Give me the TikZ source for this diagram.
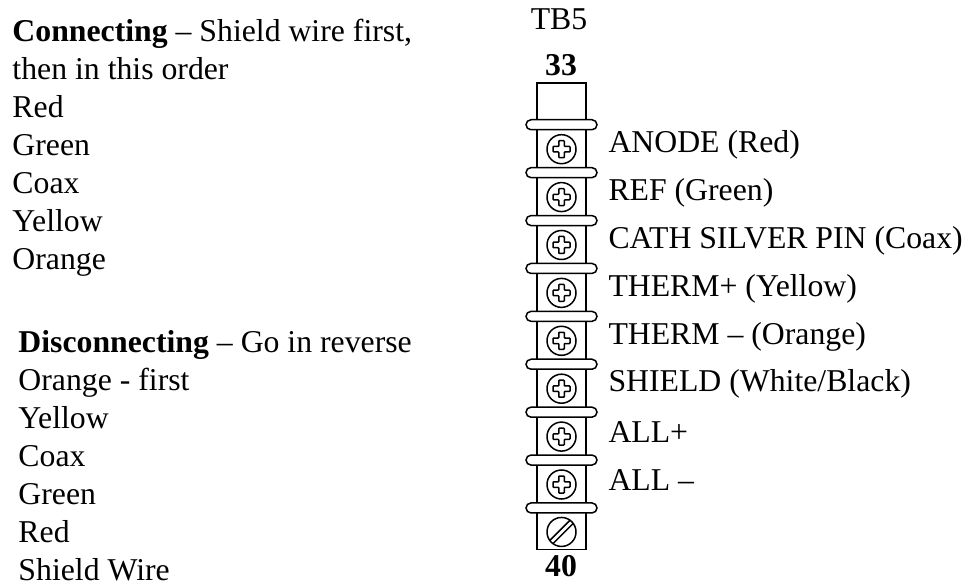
\documentclass[tikz,border=0pt]{standalone}
\usepackage{fontspec}
\setmainfont{Liberation Serif}
\usetikzlibrary{positioning}

\begin{document}
\begin{tikzpicture}[x=0.4pt, y=-0.4pt, node distance=0pt]
    \tikzset{
        slot/.style={
            rectangle,
            draw,
            line width=0.6pt,
            inner sep=0pt,
            minimum width=19.6pt,
            minimum height=18.56pt
        },
        endslot/.style={slot, minimum height=16.4pt},
        bar/.style={
            rectangle,
            rounded corners=2pt,
            draw,
            fill=white,
            line width=0.6pt,
            inner sep=0pt,
            minimum width=28.4pt,
            minimum height=4pt
        },
        screw/.style={circle, draw, line width=0.6pt, inner sep=0pt, minimum size=11.6pt},
        lbl/.style={anchor=west, inner sep=0pt, font=\fontsize{12.7}{15.3}\selectfont},
        txt/.style={anchor=north west, align=left, inner sep=0pt, font=\fontsize{12.7}{15.2}\selectfont},
        phillips/.pic={
            \draw[line width=0.6pt, rounded corners=0.3pt]
            (1.1pt,3.4pt) -- (1.1pt,1.1pt) -- (3.4pt,1.1pt) -- (3.4pt,-1.1pt) -- (1.1pt,-1.1pt)
            -- (1.1pt,-3.4pt) -- (-1.1pt,-3.4pt) -- (-1.1pt,-1.1pt) -- (-3.4pt,-1.1pt)
            -- (-3.4pt,1.1pt) -- (-1.1pt,1.1pt) -- (-1.1pt,3.4pt) -- cycle;
        }
    }
    \useasboundingbox (0,0) rectangle (973,584);

    % terminal block TB5
    \node[endslot] (slot0) at (561.5,103.5) {};
    \node[slot, below=of slot0] (slot1) {};
    \node[slot, below=of slot1] (slot2) {};
    \node[slot, below=of slot2] (slot3) {};
    \node[slot, below=of slot3] (slot4) {};
    \node[slot, below=of slot4] (slot5) {};
    \node[slot, below=of slot5] (slot6) {};
    \node[slot, below=of slot6] (slot7) {};
    \node[slot, below=of slot7] (slot8) {};
    \node[endslot, below=of slot8] (slot9) {};

    \foreach \i in {1,...,9}
        \node[bar] (bar\i) at (slot\i.north) {};

    \foreach \i in {1,...,8} {
        \node[screw] (screw\i) at ([yshift=-0.2pt]slot\i) {};
        \pic at (screw\i) {phillips};
    }

    \node[screw] (screw9) at ([yshift=-1.1pt]slot9) {};
    \draw[line width=0.6pt, shift={(screw9)}] (-4.69pt,-3.42pt) -- (3.42pt,4.69pt);
    \draw[line width=0.6pt, shift={(screw9)}] (-3.42pt,-4.69pt) -- (4.69pt,3.42pt);

    \node[font=\fontsize{12.7}{15.3}\selectfont] (tblabel) at (559,19) {TB5};
    \node[font=\fontsize{12.7}{15.3}\selectfont\bfseries] (firstnum) at (561,65) {33};
    \node[font=\fontsize{12.7}{15.3}\selectfont\bfseries] (lastnum) at (561,566) {40};

    \node[lbl] (anode) at (608,145) {ANODE (Red)};
    \node[lbl] (ref) at (608,193) {REF (Green)};
    \node[lbl] (cath) at (608,241) {CATH SILVER PIN (Coax)};
    \node[lbl] (thermp) at (608,289) {THERM+ (Yellow)};
    \node[lbl] (thermm) at (608,337) {THERM -- (Orange)};
    \node[lbl] (shield) at (608,384) {SHIELD (White/Black)};
    \node[lbl] (allp) at (608,432) {ALL+};
    \node[lbl] (allm) at (608,480) {ALL --};

    % wiring order
    \node[txt] (connect) at (12,19) {\textbf{Connecting} -- Shield wire first,\\
        then in this order\\ Red\\ Green\\ Coax\\ Yellow\\ Orange};
    \node[txt] (disconnect) at (18,330) {\textbf{Disconnecting} -- Go in reverse\\
        Orange - first\\ Yellow\\ Coax\\ Green\\ Red\\ Shield Wire};

\end{tikzpicture}
\end{document}
